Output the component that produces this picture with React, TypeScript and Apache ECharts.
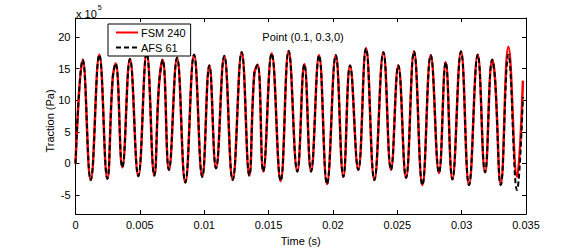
import React, { useEffect, useRef } from "react";
import * as echarts from "echarts";

// Time (s) of the read-off samples (peaks, troughs, shoulders)
const time = [
  0, 0.00056, 0.00118, 0.00185, 0.00247, 0.00289, 0.00312, 0.00364, 0.00423, 0.00488,
  0.00553, 0.00612, 0.00649, 0.00677, 0.00726, 0.00789, 0.00853, 0.00921, 0.00985, 0.0104,
  0.01092, 0.01156, 0.01221, 0.01291, 0.0135, 0.01389, 0.01415, 0.01459, 0.01524, 0.01594,
  0.01656, 0.01723, 0.01778, 0.0183, 0.01892, 0.01954, 0.02022, 0.02081, 0.02133, 0.02197,
  0.02257, 0.02322, 0.02392, 0.02451, 0.02508, 0.02568, 0.0263, 0.02695, 0.0276, 0.02824,
  0.02876, 0.02928, 0.02995, 0.03057, 0.03125, 0.03182, 0.03238, 0.03259, 0.03304, 0.03363,
  0.0343, 0.03476,
];

// Traction (x 10^5 Pa), FSM 240
const fsm = [
  0, 16.4, -2.6, 17.2, -2.4, 13.5, 15.8, -0.6, 16.5, -2.0,
  17.5, -1.9, 12.5, 16.4, -1.0, 16.7, -3.0, 17.2, -2.1, 15.5,
  -0.75, 17.0, -2.6, 17.6, -1.9, 14.2, 15.6, -1.25, 17.4, -2.75,
  17.8, -1.25, 15.7, -1.25, 17.1, -3.25, 17.1, -2.1, 15.5, -1.0,
  18.2, -2.6, 17.6, -1.0, 15.5, -2.25, 17.7, -3.4, 17.1, -1.5,
  16.0, -2.5, 17.7, -3.4, 17.2, -1.4, 16.4, 13.5, -3.25, 18.4,
  -2.1, 13.1,
];

// Traction (x 10^5 Pa), AFS 61
const afs = [
  0, 16.4, -2.6, 17.2, -2.4, 13.5, 15.8, -0.6, 16.5, -2.0,
  17.5, -1.9, 12.5, 16.4, -1.0, 16.7, -3.0, 17.2, -2.1, 15.5,
  -0.75, 17.0, -2.6, 17.6, -1.9, 14.2, 15.6, -1.25, 17.4, -2.75,
  17.8, -1.25, 15.7, -1.25, 17.1, -3.25, 17.1, -2.1, 15.5, -1.0,
  18.2, -2.6, 17.6, -1.0, 15.5, -2.25, 17.7, -3.4, 17.1, -1.5,
  16.0, -2.5, 17.7, -3.4, 17.2, -1.4, 16.4, 13.5, -3.4, 17.2,
  -4.2, 10.5,
];

const yTicks = [-5, 0, 5, 10, 15, 20];
const seriesNames = ["FSM 240", "AFS 61"];

const FONT = "Liberation Sans, Arial, Helvetica, sans-serif";

export default function App() {
  const ref = useRef<HTMLDivElement>(null);
  useEffect(() => {
    if (!ref.current) return;
    const chart = echarts.init(ref.current, undefined, { renderer: "svg" });
    const axisLine = { show: true, onZero: false, lineStyle: { color: "#000", width: 1 } };
    const tick = { show: true, inside: true, length: 4, lineStyle: { color: "#000", width: 1 } };
    const xFmt = (v: number) => String(parseFloat(v.toFixed(3)));
    chart.setOption({
      animation: false,
      textStyle: { fontFamily: FONT },
      grid: { left: 75.5, right: 55, top: 18, bottom: 27.5, containLabel: false },
      legend: {
        data: seriesNames,
        orient: "vertical",
        left: 108,
        top: 24,
        itemWidth: 22,
        itemHeight: 10,
        itemGap: 4,
        padding: [3, 5, 3, 7],
        backgroundColor: "#fff",
        borderColor: "#000",
        borderWidth: 1,
        borderRadius: 0,
        selectedMode: false,
        itemStyle: { opacity: 0 },
        textStyle: { fontSize: 11, color: "#000", fontFamily: FONT, padding: [0, 0, 0, -2] },
      },
      xAxis: [
        {
          type: "value",
          min: 0,
          max: 0.035,
          interval: 0.005,
          position: "bottom",
          axisLine,
          axisTick: tick,
          splitLine: { show: false },
          axisLabel: { color: "#000", fontSize: 11, margin: 5, formatter: xFmt, fontFamily: FONT },
          name: "Time (s)",
          nameLocation: "middle",
          nameGap: 17,
          nameTextStyle: { color: "#000", fontSize: 11, fontFamily: FONT },
        },
        {
          type: "value",
          min: 0,
          max: 0.035,
          interval: 0.005,
          position: "top",
          axisLine,
          axisTick: tick,
          splitLine: { show: false },
          axisLabel: { show: false },
        },
      ],
      yAxis: [
        {
          type: "value",
          min: -8,
          max: 23,
          position: "left",
          axisLine,
          axisTick: { ...tick, customValues: yTicks },
          splitLine: { show: false },
          axisLabel: { color: "#000", fontSize: 11, margin: 5, customValues: yTicks, fontFamily: FONT },
        },
        {
          type: "value",
          min: -8,
          max: 23,
          position: "right",
          axisLine,
          axisTick: { ...tick, customValues: yTicks },
          splitLine: { show: false },
          axisLabel: { show: false },
        },
      ],
      graphic: [
        {
          type: "text",
          x: 50,
          y: 121,
          rotation: Math.PI / 2,
          style: {
            text: "Traction (Pa)",
            fontSize: 11,
            fontFamily: FONT,
            fill: "#000",
            align: "center",
            verticalAlign: "middle",
          },
        },
        {
          type: "text",
          x: 303,
          y: 37,
          style: {
            text: "Point (0.1, 0.3,0)",
            fontSize: 11,
            fontFamily: FONT,
            fill: "#000",
            align: "center",
            verticalAlign: "middle",
          },
        },
        {
          type: "text",
          x: 76,
          y: 4,
          style: {
            text: "{a|x 10}{b|5}",
            fontFamily: FONT,
            fill: "#000",
            rich: {
              a: { fontSize: 11, fontFamily: FONT, fill: "#000", verticalAlign: "bottom", padding: [4, 0, 0, 0] },
              b: { fontSize: 7, fontFamily: FONT, fill: "#000", verticalAlign: "top", padding: [0, 0, 6, 1] },
            },
          },
        },
      ],
      series: [
        {
          name: seriesNames[0],
          type: "line",
          xAxisIndex: 0,
          yAxisIndex: 0,
          data: time.map((t, i) => [t, fsm[i]]),
          smooth: 0.45,
          showSymbol: false,
          symbol: "none",
          lineStyle: { color: "#ff0000", width: 2.5 },
          itemStyle: { color: "#ff0000" },
          z: 2,
        },
        {
          name: seriesNames[1],
          type: "line",
          xAxisIndex: 0,
          yAxisIndex: 0,
          data: time.map((t, i) => [t, afs[i]]),
          smooth: 0.45,
          showSymbol: false,
          symbol: "none",
          lineStyle: { color: "#000", width: 2, type: [5, 3] },
          itemStyle: { color: "#000" },
          z: 3,
        },
      ],
    });
    return () => chart.dispose();
  }, []);
  return (
    <div
      ref={ref}
      style={{ position: "fixed", left: 0, top: 0, width: 581, height: 251, background: "#fff" }}
    />
  );
}
